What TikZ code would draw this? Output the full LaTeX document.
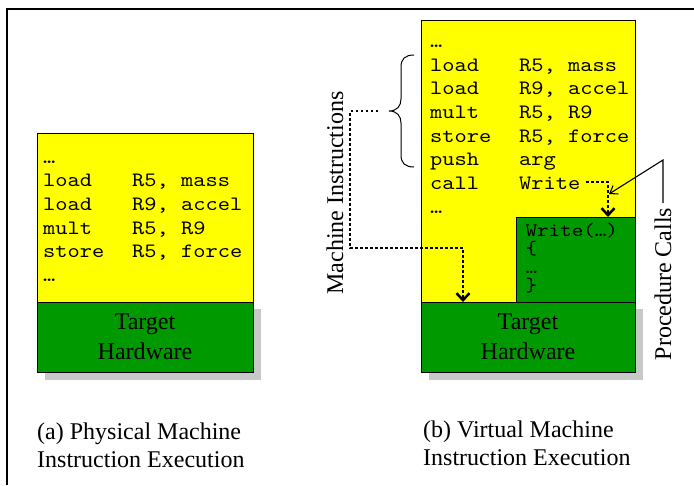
\documentclass[tikz,border=0pt]{standalone}
\usepackage{fontspec}
\setmainfont{Liberation Serif}
\newfontfamily\codefont{lmmono10-regular.otf}[FakeStretch=1.143]
\usetikzlibrary{arrows.meta,calc}
\definecolor{hwgreen}{RGB}{0,153,0}
\definecolor{codeyellow}{RGB}{255,255,0}
\definecolor{shadowgray}{RGB}{200,200,200}

\begin{document}
\begin{tikzpicture}[x=1pt,y=-1pt,
  box/.style={draw=black,line width=1pt,inner sep=0pt,outer sep=0pt,anchor=north west},
  memory/.style={box,fill=codeyellow},
  hardware/.style={box,fill=hwgreen},
  code/.style={anchor=base west,inner sep=0pt,font=\fontsize{20.4}{24}\selectfont\codefont},
  smallcode/.style={anchor=base west,inner sep=0pt,font=\fontsize{19.2}{18.6}\selectfont\codefont},
  hwlabel/.style={inner sep=0pt,align=center,font=\fontsize{24}{30}\selectfont},
  caption/.style={inner sep=0pt,align=left,anchor=base west,font=\fontsize{24}{28}\selectfont},
  sidelabel/.style={inner sep=0pt,rotate=90,anchor=base,font=\fontsize{24}{28}\selectfont},
  dotarrow/.style={line width=2.5pt,dash pattern=on 2.5pt off 2.5pt,
    -{Straight Barb[length=7pt,width=13pt,line width=2.5pt]}},
  thinarrow/.style={line width=1.1pt,-{Straight Barb[length=7pt,width=10pt,line width=1.1pt]}}
]
\useasboundingbox (0,0) rectangle (694,485);

% frame
\draw[line width=2pt] (6.5,485) -- (6.5,9) -- (694,9);

% ---------------- (a) physical machine ----------------
\fill[shadowgray] (45,309) rectangle (260.5,380);
\node[memory,minimum width=216pt,minimum height=169pt] (memA) at (37,133) {};
\node[hardware,minimum width=216pt,minimum height=70pt] (hwA) at (37,302) {};
\node[hwlabel] (hwAlbl) at (hwA.center) {Target\\Hardware};

\foreach \op/\arg [count=\i] in {{…}/{},load/{R5, mass},load/{R9, accel},mult/{R5, R9},store/{R5, force},{…}/{}}{
  \node[code] (opA\i) at (43,{163+23.7*(\i-1)}) {\op};
  \node[code] (argA\i) at (132,{163+23.7*(\i-1)}) {\arg};
}

\node[caption] (capA) at (37,467) {(a) Physical Machine\\Instruction Execution};

% ---------------- (b) virtual machine ----------------
\fill[shadowgray] (428.5,309) rectangle (643,380);
\node[memory,minimum width=214pt,minimum height=282pt] (memB) at (421,20) {};
\node[hardware,minimum width=119pt,minimum height=85pt] (wbox) at (516,217) {};
\node[hardware,minimum width=214pt,minimum height=70pt] (hwB) at (421,302) {};
\node[hwlabel] (hwBlbl) at (hwB.center) {Target\\Hardware};

\foreach \op/\arg [count=\i] in {{…}/{},load/{R5, mass},load/{R9, accel},mult/{R5, R9},store/{R5, force},push/arg,call/Write,{…}/{}}{
  \node[code] (opB\i) at (430,{47.3+23.7*(\i-1)}) {\op};
  \node[code] (argB\i) at (519,{47.3+23.7*(\i-1)}) {\arg};
}

\foreach \t [count=\i] in {Write(…),\{,…,\}}{
  \node[smallcode] (wl\i) at (525.5,{236+18.6*(\i-1)}) {\t};
}

% brace grouping the machine instructions
\draw[line width=1pt] (414,55) .. controls (405,55) and (401,59) .. (401,67)
  -- (401,99) .. controls (401,106) and (397,111) .. (389,111)
  .. controls (397,111) and (401,116) .. (401,123)
  -- (401,155) .. controls (401,163) and (405,167) .. (414,167);

\node[sidelabel] (milbl) at (343,193) {Machine Instructions};
\coordinate (mi) at (378,111);
\coordinate (miturn) at (463,248);
\draw[dotarrow] (mi) -- (350,111) |- (miturn) -- (miturn |- hwB.north);

% call of the procedure
\coordinate (wsrc) at (586,182);
\draw[dotarrow] (wsrc) -| ($(wbox.north west)+(92,0)$);

\node[sidelabel] (pclbl) at (671,284) {Procedure Calls};
\coordinate (pcend) at (663,203);
\coordinate (pcknee) at (663,160);
\coordinate (wtip) at (609,194);
\draw[thinarrow] (pcend) -- (pcknee) -- (wtip);

\node[caption] (capB) at (423,465) {(b) Virtual Machine\\Instruction Execution};
\end{tikzpicture}
\end{document}
